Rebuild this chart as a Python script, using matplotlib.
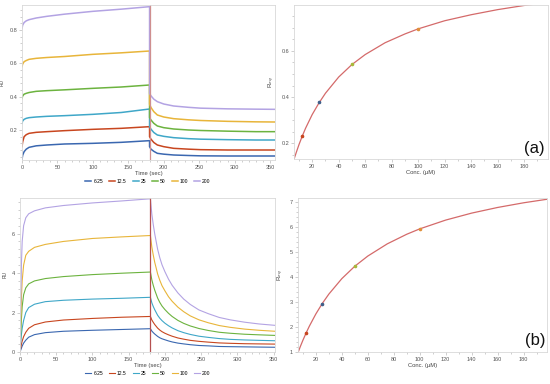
import matplotlib
matplotlib.use("Agg")
import matplotlib.pyplot as plt
from matplotlib.ticker import MultipleLocator

plt.rcParams["font.family"] = ["Liberation Sans", "DejaVu Sans"]

# concentrations (uM) and series colours
concs = ["6.25", "12.5", "25", "50", "100", "200"]
colors = ["#3a67b0", "#c8461f", "#3fa7c8", "#6cb33f", "#e8b53a", "#b3a3e3"]

# ---- panel (a) sensorgram ----
a_t_on = [0, 1, 3, 6, 10, 20, 35, 60, 100, 140, 180]
a_on = {
    "6.25": [0.024, 0.05, 0.07, 0.085, 0.096, 0.105, 0.11, 0.116, 0.12, 0.126, 0.136],
    "12.5": [0.10, 0.13, 0.16, 0.172, 0.18, 0.186, 0.19, 0.196, 0.204, 0.21, 0.22],
    "25": [0.24, 0.255, 0.264, 0.27, 0.274, 0.278, 0.282, 0.286, 0.294, 0.305, 0.326],
    "50": [0.39, 0.405, 0.415, 0.42, 0.425, 0.432, 0.436, 0.441, 0.45, 0.458, 0.47],
    "100": [0.58, 0.597, 0.61, 0.617, 0.624, 0.63, 0.635, 0.641, 0.654, 0.663, 0.674],
    "200": [0.81, 0.83, 0.845, 0.855, 0.862, 0.872, 0.882, 0.895, 0.912, 0.925, 0.94],
}
a_t_off = [180, 182, 186, 191, 200, 214, 235, 252, 290, 330, 357]
a_off = {
    "6.25": [0.10, 0.085, 0.072, 0.06, 0.055, 0.05, 0.047, 0.045, 0.044, 0.044, 0.044],
    "12.5": [0.16, 0.145, 0.125, 0.11, 0.10, 0.09, 0.085, 0.082, 0.08, 0.08, 0.08],
    "25": [0.22, 0.205, 0.185, 0.17, 0.162, 0.154, 0.148, 0.145, 0.142, 0.14, 0.14],
    "50": [0.275, 0.26, 0.24, 0.224, 0.214, 0.206, 0.2, 0.197, 0.193, 0.19, 0.19],
    "100": [0.355, 0.335, 0.31, 0.29, 0.278, 0.268, 0.261, 0.257, 0.252, 0.249, 0.248],
    "200": [0.42, 0.405, 0.385, 0.37, 0.356, 0.344, 0.336, 0.331, 0.327, 0.325, 0.324],
}

# ---- panel (b) sensorgram ----
b_t_on = [0, 1, 2, 3, 5, 8, 12, 20, 35, 60, 100, 140, 180]
b_on = {
    "6.25": [0, 0.1, 0.2, 0.3, 0.45, 0.6, 0.75, 0.88, 0.98, 1.05, 1.1, 1.14, 1.18],
    "12.5": [0, 0.2, 0.4, 0.55, 0.78, 1.0, 1.2, 1.38, 1.52, 1.62, 1.7, 1.76, 1.8],
    "25": [0, 0.5, 0.9, 1.2, 1.6, 2.0, 2.25, 2.42, 2.55, 2.62, 2.68, 2.72, 2.77],
    "50": [0, 0.9, 1.7, 2.3, 2.9, 3.25, 3.45, 3.6, 3.72, 3.82, 3.92, 3.99, 4.05],
    "100": [0, 1.5, 2.8, 3.6, 4.4, 4.9, 5.1, 5.3, 5.45, 5.6, 5.75, 5.83, 5.9],
    "200": [0, 2.5, 4.5, 5.6, 6.4, 6.8, 7.0, 7.15, 7.3, 7.42, 7.55, 7.65, 7.76],
}
b_t_off = [180, 181, 182, 184, 186, 188, 190, 193, 196, 200, 205, 210, 218, 226,
           235, 247, 260, 275, 290, 310, 330, 352]
b_off = {
    "6.25": [1.18, 1.12, 1.06, 0.98, 0.91, 0.85, 0.79, 0.72, 0.67, 0.62, 0.56, 0.51,
             0.45, 0.41, 0.37, 0.33, 0.31, 0.28, 0.27, 0.26, 0.25, 0.24],
    "12.5": [1.8, 1.71, 1.62, 1.5, 1.39, 1.3, 1.21, 1.11, 1.03, 0.95, 0.87, 0.8,
             0.71, 0.65, 0.59, 0.54, 0.5, 0.46, 0.44, 0.42, 0.41, 0.40],
    "25": [2.77, 2.63, 2.49, 2.3, 2.14, 2.0, 1.86, 1.71, 1.59, 1.46, 1.33, 1.22,
           1.08, 0.98, 0.89, 0.8, 0.74, 0.68, 0.64, 0.61, 0.59, 0.57],
    "50": [4.05, 3.85, 3.65, 3.37, 3.13, 2.93, 2.73, 2.51, 2.33, 2.15, 1.96, 1.8,
           1.6, 1.45, 1.32, 1.19, 1.09, 1.0, 0.95, 0.9, 0.87, 0.84],
    "100": [5.9, 5.6, 5.31, 4.9, 4.54, 4.25, 3.95, 3.63, 3.36, 3.1, 2.8, 2.57,
            2.27, 2.04, 1.83, 1.63, 1.48, 1.34, 1.25, 1.16, 1.1, 1.05],
    "200": [7.76, 7.37, 6.98, 6.44, 5.98, 5.59, 5.2, 4.77, 4.42, 4.07, 3.69, 3.38,
            2.99, 2.68, 2.41, 2.13, 1.94, 1.75, 1.63, 1.51, 1.42, 1.35],
}

# ---- steady-state fits (Req vs conc) ----
fit_conc = [6.25, 8, 10, 12.5, 15, 20, 25, 30, 40, 50, 60, 75, 90, 100,
            120, 140, 160, 180, 200]
fit_a = [0.132, 0.162, 0.195, 0.232, 0.266, 0.325, 0.374, 0.417, 0.487, 0.541,
         0.584, 0.635, 0.673, 0.695, 0.730, 0.756, 0.778, 0.796, 0.810]
fit_b = [0.976, 1.212, 1.465, 1.759, 2.031, 2.517, 2.939, 3.308, 3.925, 4.420,
         4.825, 5.312, 5.695, 5.909, 6.260, 6.538, 6.763, 6.949, 7.105]
pt_conc = [12.5, 25, 50, 100]
pt_colors = ["#c8461f", "#3f5f8a", "#a8b83a", "#e0903a"]
pt_a = [0.232, 0.378, 0.543, 0.695]
pt_b = [1.76, 2.92, 4.41, 5.91]

W, H = 550, 384
fig = plt.figure(figsize=(5.5, 3.84), dpi=100)


def box(l, t, r, b):
    return [l / W, 1 - b / H, (r - l) / W, (b - t) / H]


def style(ax):
    for s in ax.spines.values():
        s.set_color("#d8d8d8")
        s.set_linewidth(0.6)
    ax.tick_params(which="both", labelsize=4, colors="#bbbbbb", labelcolor="#555555",
                   width=0.5, pad=1.5)
    ax.tick_params(which="major", length=2)
    ax.tick_params(which="minor", length=1.2)


def sensorgram(ax, t_on, on, t_off, off, lw, xmax, ylim, ymaj, ymin, ylab, vcol):
    for c, col in zip(concs, colors):
        ax.plot(t_on + t_off, on[c] + off[c], color=col, lw=lw, label=c)
    ax.axvline(180, color=vcol, lw=0.9)
    ax.set_xlim(0, xmax)
    ax.set_ylim(*ylim)
    ax.xaxis.set_major_locator(MultipleLocator(50))
    ax.xaxis.set_minor_locator(MultipleLocator(10))
    ax.yaxis.set_major_locator(MultipleLocator(ymaj))
    ax.yaxis.set_minor_locator(MultipleLocator(ymin))
    ax.set_xlabel("Time (sec)", fontsize=4.2, labelpad=1, color="#444444")
    ax.set_ylabel(ylab, fontsize=3.5, labelpad=3, color="#444444")
    style(ax)


def fitpanel(ax, fit, pts, ylim, ymaj, ymin, tag, tag_xy):
    ax.plot(fit_conc, fit, color="#d46a6a", lw=0.9)
    for x, y, col in zip(pt_conc, pts, pt_colors):
        ax.plot(x, y, "o", ms=1.6, color=col, zorder=3)
    ax.set_xlim(6.25, 198)
    ax.set_ylim(*ylim)
    ax.xaxis.set_major_locator(MultipleLocator(20))
    ax.xaxis.set_minor_locator(MultipleLocator(10))
    ax.yaxis.set_major_locator(MultipleLocator(ymaj))
    ax.yaxis.set_minor_locator(MultipleLocator(ymin))
    ax.set_xlabel("Conc. (\u00b5M)", fontsize=4.2, labelpad=1, color="#444444")
    ax.set_ylabel("R$_{eq}$", fontsize=4.5, labelpad=3, color="#444444")
    style(ax)
    fig.text(tag_xy[0] / W, 1 - tag_xy[1] / H, tag, fontsize=12, ha="center",
             va="center", color="#111111")


ax1 = fig.add_axes(box(22, 5, 275, 160))
sensorgram(ax1, a_t_on, a_on, a_t_off, a_off, 1.1, 357, (0.02, 0.95), 0.2, 0.04,
           "RU", "#cf8f8f")
ax2 = fig.add_axes(box(294, 5, 548, 159))
fitpanel(ax2, fit_a, pt_a, (0.133, 0.798), 0.2, 0.05, "(a)", (534, 148))

ax3 = fig.add_axes(box(20, 198, 275, 352))
sensorgram(ax3, b_t_on, b_on, b_t_off, b_off, 0.8, 352, (0, 7.8), 2, 0.4,
           "RU", "#b55050")
ax4 = fig.add_axes(box(298, 198, 547, 352))
fitpanel(ax4, fit_b, pt_b, (1.0, 7.14), 1, 0.2, "(b)", (535, 340))

for ax, ly in [(ax1, 181.5), (ax3, 373.5)]:
    h, l = ax.get_legend_handles_labels()
    fig.legend(h, l, loc="center", bbox_to_anchor=(148 / W, 1 - ly / H), ncol=6,
               fontsize=3.6, frameon=False, handlelength=1.2, handletextpad=0.4,
               columnspacing=1.2, borderpad=0)

fig.savefig("out.png", dpi=100)
